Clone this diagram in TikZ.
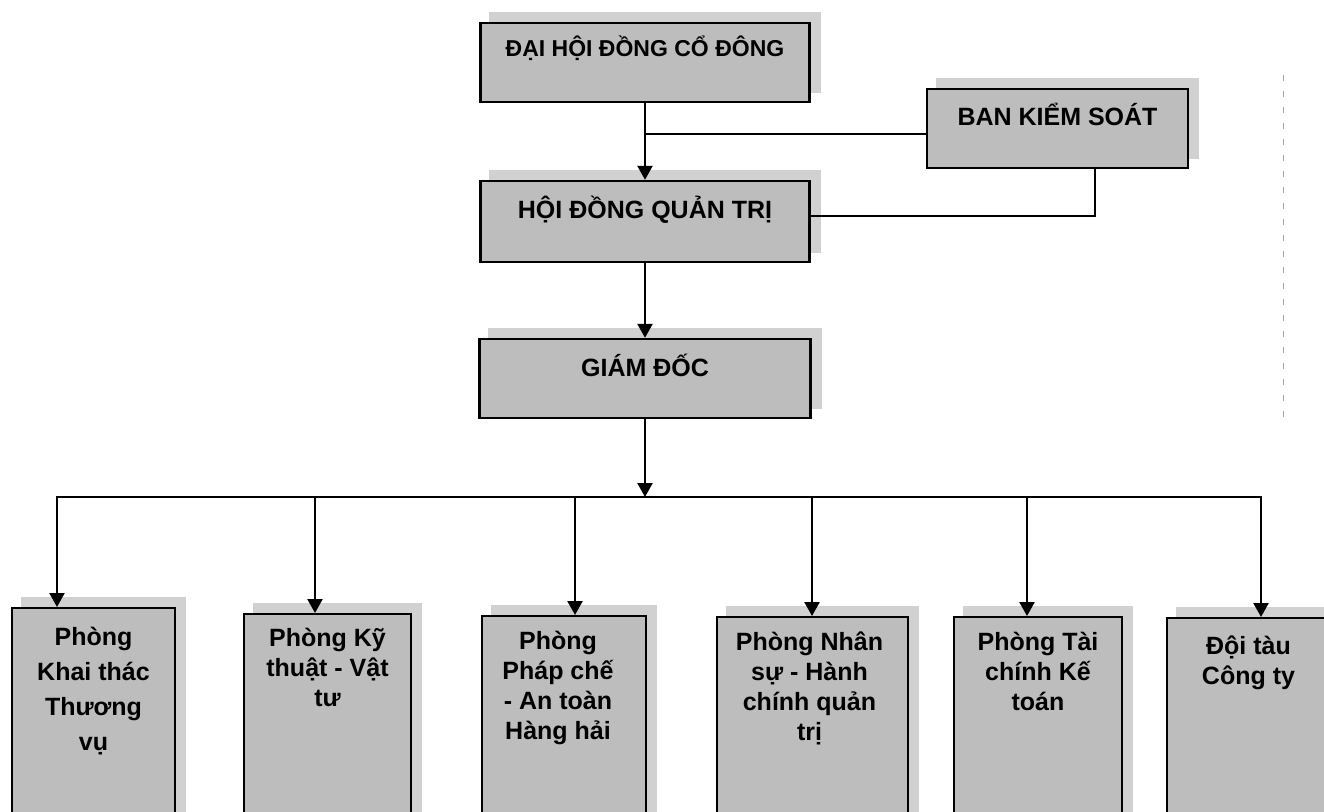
\documentclass[tikz,border=0pt]{standalone}
\usepackage{fontspec}
\setmainfont{Liberation Sans}
\usetikzlibrary{arrows.meta,backgrounds}
\definecolor{boxgray}{gray}{0.74}
\definecolor{shadegray}{gray}{0.82}
\tikzset{
  box/.style={draw=black, line width=2.4pt, fill=boxgray, inner sep=0pt},
  lbl/.style={font=\bfseries\fontsize{25}{30}\selectfont, align=center, inner sep=0pt},
  conn/.style={line width=2.4pt},
  arr/.style={conn, -{Triangle[length=14pt,width=15pt]}},
  artifact/.style={gray!70, line width=0.8pt, dash pattern=on 6pt off 10pt},
}
\newcommand{\shadowof}[1]{%
  \begin{scope}[on background layer]
    \fill[shadegray] ([xshift=10pt,yshift=10pt]#1.south west) rectangle ([xshift=10pt,yshift=10pt]#1.north east);
  \end{scope}}
\begin{document}
\begin{tikzpicture}[x=1pt,y=-1pt]
\useasboundingbox (0,0) rectangle (1324,811);
\clip (0,0) rectangle (1324,811);

% upper boxes
\node[box, minimum width=329pt, minimum height=79pt] (dhd) at (645,62.5) {};
\node[lbl, font=\bfseries\fontsize{23}{28}\selectfont] (dhdt) at ([yshift=14pt]dhd.center) {ĐẠI HỘI ĐỒNG CỔ ĐÔNG};
\node[box, minimum width=261pt, minimum height=79pt] (bks) at (1057.5,128.5) {};
\node[lbl] (bkst) at ([yshift=14pt]bks.center) {BAN KIỂM SOÁT};
\node[box, minimum width=329pt, minimum height=81pt] (hdqt) at (645,221.5) {};
\node[lbl] (hdqtt) at ([yshift=12pt]hdqt.center) {HỘI ĐỒNG QUẢN TRỊ};
\node[box, minimum width=331pt, minimum height=79pt] (gd) at (645,378.5) {};
\node[lbl] (gdt) at ([yshift=13pt]gd.center) {GIÁM ĐỐC};
\shadowof{dhd}\shadowof{bks}\shadowof{hdqt}\shadowof{gd}

% lower boxes
\node[box, minimum width=163pt, minimum height=230pt, anchor=north] (b1) at (93.5,607) {};
\node[box, minimum width=167pt, minimum height=230pt, anchor=north] (b2) at (327.5,613) {};
\node[box, minimum width=164pt, minimum height=230pt, anchor=north] (b3) at (564,615) {};
\node[box, minimum width=191pt, minimum height=230pt, anchor=north] (b4) at (812.5,616) {};
\node[box, minimum width=168pt, minimum height=230pt, anchor=north] (b5) at (1038,616) {};
\node[box, minimum width=163pt, minimum height=230pt, anchor=north] (b6) at (1248.5,617) {};
\shadowof{b1}\shadowof{b2}\shadowof{b3}\shadowof{b4}\shadowof{b5}\shadowof{b6}

\node[lbl, anchor=north] (t1) at ([yshift=-20pt]b1.north) {Phòng\\[5pt]Khai thác\\[5pt]Thương\\[5pt]vụ};
\node[lbl, anchor=north] (t2) at ([yshift=-15pt]b2.north) {Phòng Kỹ\\thuật - Vật\\tư};
\node[lbl, anchor=north] (t3) at ([yshift=-16pt,xshift=-6pt]b3.north) {Phòng\\Pháp chế\\- An toàn\\Hàng hải};
\node[lbl, anchor=north] (t4) at ([yshift=-16pt,xshift=-3pt]b4.north) {Phòng Nhân\\sự - Hành\\chính quản\\trị};
\node[lbl, anchor=north] (t5) at ([yshift=-16pt]b5.north) {Phòng Tài\\chính Kế\\toán};
\node[lbl, anchor=north] (t6) at ([yshift=-19pt]b6.north) {Đội tàu\\Công ty};

% connectors
\coordinate (j1) at (dhd.south |- 0,134);
\coordinate (k1) at (1095,216);
\draw[arr] (dhd.south) -- (hdqt.north);
\draw[conn] (j1) -- (j1 -| bks.west);
\draw[conn] (k1 |- bks.south) -- (k1) -- (k1 -| hdqt.east);
\draw[arr] (hdqt.south) -- (gd.north);

\coordinate (bus) at (gd.south |- 0,497);
\coordinate (c1) at (57,497);
\coordinate (c2) at (315,497);
\coordinate (c3) at (575,497);
\coordinate (c4) at (812,497);
\coordinate (c5) at (1027,497);
\coordinate (c6) at (1261,497);
\draw[arr] (gd.south) -- (bus);
\draw[conn, line cap=rect] (c1) -- (c6);
\draw[arr] (c1) -- (c1 |- b1.north);
\draw[arr] (c2) -- (c2 |- b2.north);
\draw[arr] (c3) -- (c3 |- b3.north);
\draw[arr] (c4) -- (c4 |- b4.north);
\draw[arr] (c5) -- (c5 |- b5.north);
\draw[arr] (c6) -- (c6 |- b6.north);

% scan artifact at the right margin
\coordinate (m1) at (1283,75);
\coordinate (m2) at (1283,420);
\draw[artifact] (m1) -- (m2);
\end{tikzpicture}
\end{document}
